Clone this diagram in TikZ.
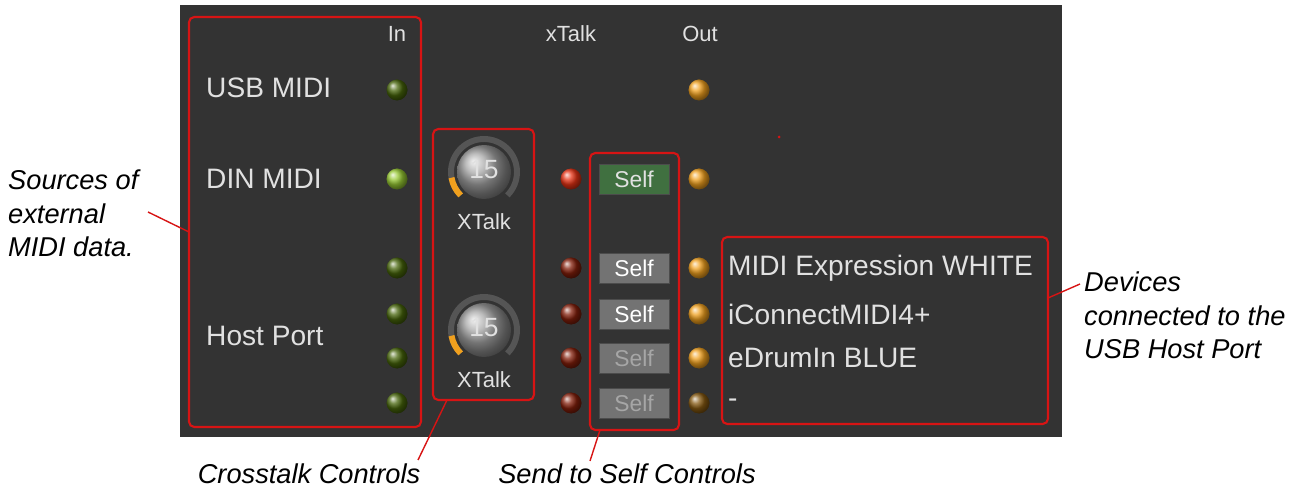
\documentclass[tikz,border=0pt]{standalone}
\usepackage{fontspec}
\setmainfont{Liberation Sans}
\usetikzlibrary{positioning, calc}
\definecolor{panel}{RGB}{51, 51, 51}
\definecolor{labelgray}{RGB}{225, 225, 225}
\definecolor{boxred}{RGB}{215, 20, 20}
\definecolor{ledorange}{RGB}{240, 160, 30}
\definecolor{ledgreen}{RGB}{150, 200, 50}
\definecolor{leddark}{RGB}{70, 100, 10}
\definecolor{ledred}{RGB}{230, 50, 20}
\definecolor{ledredoff}{RGB}{130, 30, 10}
\definecolor{ringgray}{RGB}{85, 85, 85}
\tikzset{
    panellabel/.style={text=labelgray, font=\fontsize{16}{18}\selectfont},
    headlabel/.style={text=labelgray, font=\fontsize{12.5}{14}\selectfont},
    note/.style={font=\fontsize{15.5}{19}\selectfont\itshape, align=left},
    redbox/.style={draw=boxred, line width=1.2pt, rounded corners=3pt},
    pointer/.style={draw=boxred, line width=0.8pt},
    led/.style={circle, minimum size=0.46cm, inner sep=0pt, draw=black!80, line width=1pt},
    selfbtn/.style={rectangle, minimum width=1.4cm, minimum height=0.6cm, draw=black!70,
        fill=black!55, text=white, font=\fontsize{13}{15}\selectfont, inner sep=0pt},
}
\begin{document}
\begin{tikzpicture}[x=0.02cm, y=-0.02cm]
    \useasboundingbox (0,0) rectangle (1289,493);
    \fill[panel] (180,5) rectangle (1062,437);

    % headings
    \node[headlabel] (hin) at (397,34) {In};
    \node[headlabel] (hx) at (571,34) {xTalk};
    \node[headlabel] (hout) at (700,34) {Out};
    \node[panellabel, anchor=west] (usb) at (200,88) {USB MIDI};
    \node[panellabel, anchor=west] (din) at (200,179) {DIN MIDI};
    \node[panellabel, anchor=west] (host) at (200,336) {Host Port};

    % leds
    \node[led, ball color=leddark] (in1) at (397,90) {};
    \node[led, ball color=ledgreen] (in2) at (397,179) {};
    \foreach \y/\n in {268/3, 314/4, 358/5, 403/6}
        \node[led, ball color=leddark] (in\n) at (397,\y) {};
    \foreach \y/\n in {90/1, 179/2, 268/3, 314/4, 358/5}
        \node[led, ball color=ledorange] (out\n) at (699,\y) {};
    \node[led, ball color=ledorange!55!black] (out6) at (699,403) {};
    \node[led, ball color=ledred] (xt2) at (571,179) {};
    \foreach \y/\n in {268/3, 314/4, 358/5, 403/6}
        \node[led, ball color=ledredoff] (xt\n) at (571,\y) {};

    % self buttons
    \node[selfbtn, fill=green!25!black!75, text=labelgray] (self2) at (634,179) {Self};
    \node[selfbtn] (self3) at (634,268) {Self};
    \node[selfbtn] (self4) at (634,314) {Self};
    \node[selfbtn, text=black!35] (self5) at (634,358) {Self};
    \node[selfbtn, text=black!35] (self6) at (634,403) {Self};

    % knobs (y axis flipped, so angles run the other way)
    \foreach \y/\n in {172/1, 330/2} {
        \draw[ringgray, line width=3.4pt] (484,\y) ++(135:33) arc[start angle=135, end angle=405, radius=33];
        \draw[ledorange, line width=3.4pt] (484,\y) ++(135:33) arc[start angle=135, end angle=170, radius=33];
        \shade[ball color=black!35] (484,\y) circle (27);
        \node[text=labelgray, font=\fontsize{15}{17}\selectfont] (knob\n) at (484,\y-2) {15};
        \node[headlabel] (xl\n) at (484,\y+50) {XTalk};
    }

    % device names
    \node[panellabel, anchor=west] (dev1) at (722,268) {MIDI Expression WHITE};
    \node[panellabel, anchor=west] (dev2) at (722,314) {iConnectMIDI4+};
    \node[panellabel, anchor=west] (dev3) at (722,358) {eDrumIn BLUE};
    \node[panellabel, anchor=west] (dev4) at (722,403) {-};
    \fill[boxred] (779,137) circle (1.5);

    % red boxes
    \draw[redbox] (189,17) rectangle (421,427);
    \draw[redbox] (433,129) rectangle (534,400);
    \draw[redbox] (590,153) rectangle (679,430);
    \draw[redbox] (722,237) rectangle (1048,424);
    \coordinate (srcend) at (189,232);
    \coordinate (xtend) at (447,400);
    \coordinate (selfend) at (600,430);
    \coordinate (devend) at (1048,298);

    % notes
    \node[note, anchor=north west] (srcnote) at (2,164) {Sources of\\external\\MIDI data.};
    \node[note] (xtnote) at (309,474) {Crosstalk Controls};
    \node[note] (selfnote) at (627,474) {Send to Self Controls};
    \node[note, anchor=north west] (devnote) at (1078,266) {Devices\\connected to the\\USB Host Port};
    \draw[pointer] (148,212) -- (srcend);
    \draw[pointer] (418,460) -- (xtend);
    \draw[pointer] (590,461) -- (selfend);
    \draw[pointer] (1080,284) -- (devend);
\end{tikzpicture}
\end{document}
